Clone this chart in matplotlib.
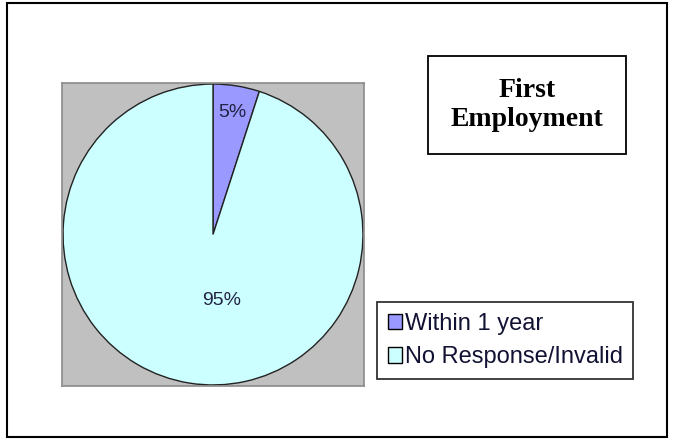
import matplotlib
matplotlib.use("Agg")
import matplotlib.pyplot as plt
from matplotlib.patches import Rectangle, Patch

categories = ["Within 1 year", "No Response/Invalid"]
values = [5, 95]
colors = ["#9999FF", "#CCFFFF"]
title = "First\nEmployment"

W, H = 673, 442
fig = plt.figure(figsize=(W / 100, H / 100), dpi=100)
fig.patch.set_facecolor("white")

# outer frame
fig.patches.append(Rectangle((6.5 / W, 1 - 437 / H), 660 / W, 434 / H,
                             transform=fig.transFigure, fill=False,
                             edgecolor="black", linewidth=1.5))

ax = fig.add_axes([62 / W, 1 - 386 / H, 302 / W, 303 / H])
ax.set_facecolor("#C0C0C0")
wedges, texts, autotexts = ax.pie(
    values, colors=colors, startangle=90, counterclock=False,
    autopct="%d%%", radius=1.0, frame=True,
    wedgeprops=dict(edgecolor="#222222", linewidth=1.0),
    textprops=dict(family="Liberation Sans", fontsize=14, color="#222244"))
autotexts[0].set_position((0.127, 0.81))
autotexts[1].set_position((0.06, -0.44))
ax.set_xlim(-1.007, 1.007)
ax.set_ylim(-1.007, 1.007)
ax.set_aspect("auto")
ax.set_xticks([])
ax.set_yticks([])
for s in ax.spines.values():
    s.set_edgecolor("#8a8a8a")
    s.set_linewidth(1.2)

# title box
fig.text((428 + 626) / 2 / W, 1 - 105 / H, title, ha="center", va="center",
         family="Liberation Serif", fontweight="bold", fontsize=20,
         linespacing=1.25)
fig.patches.append(Rectangle((428 / W, 1 - 154 / H), 198 / W, 98 / H,
                             transform=fig.transFigure, fill=False,
                             edgecolor="black", linewidth=1.3))

handles = [Patch(facecolor=c, edgecolor="black", linewidth=1.0) for c in colors]
leg = fig.legend(handles, categories, loc="upper left",
                 bbox_to_anchor=(377 / W, 1 - 302 / H),
                 bbox_transform=fig.transFigure,
                 prop=dict(family="Liberation Sans", size=17),
                 frameon=True, fancybox=False, edgecolor="black",
                 handlelength=0.62, handleheight=0.62, handletextpad=0.1,
                 borderpad=0.45, labelspacing=0.5, borderaxespad=0)
leg.get_frame().set_linewidth(1.3)
for t in leg.get_texts():
    t.set_color("#111133")

fig.savefig("out.png", dpi=100)
